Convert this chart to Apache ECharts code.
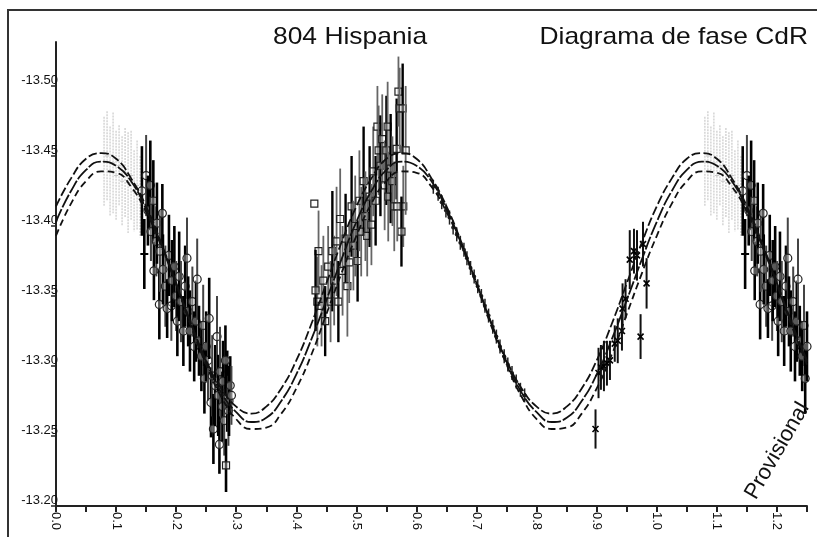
<!DOCTYPE html>
<html><head><meta charset="utf-8">
<script src="https://cdn.jsdelivr.net/npm/echarts@6/dist/echarts.min.js"></script>
<style>html,body{margin:0;padding:0;background:#fff}#c{width:817px;height:537px}</style>
</head><body><div id="c"></div>
<script>
const titleLeft = '804 Hispania';
const titleRight = 'Diagrama de fase CdR';
const stampText = 'Provisional';

const xTickValues = [0,0.05,0.1,0.15,0.2,0.25,0.3,0.35,0.4,0.45,0.5,0.55,0.6,0.65,0.7,0.75,0.8,0.85,0.9,0.95,1.0,1.05,1.1,1.15,1.2,1.25];
const xLabelValues = [0,0.1,0.2,0.3,0.4,0.5,0.6,0.7,0.8,0.9,1.0,1.1,1.2];
const yLabelValues = [-13.50,-13.45,-13.40,-13.35,-13.30,-13.25,-13.20];

// fitted curves (phase grid + three curves)
const curvePhase = [0,0.025,0.05,0.075,0.1,0.125,0.15,0.175,0.2,0.225,0.25,0.275,0.3,0.325,0.35,0.375,0.4,0.425,0.45,0.475,0.5,0.525,0.55,0.575,0.6,0.625,0.65,0.675,0.7,0.725,0.75,0.775,0.8,0.825,0.85,0.875,0.9,0.925,0.95,0.975,1.0,1.025,1.05,1.075,1.1,1.125,1.15,1.175,1.2,1.225,1.25];
const curveUpper = [-13.414,-13.434,-13.448,-13.452,-13.448,-13.434,-13.414,-13.388,-13.359,-13.330,-13.304,-13.284,-13.271,-13.266,-13.271,-13.284,-13.304,-13.330,-13.359,-13.388,
 -13.414,-13.434,-13.448,-13.452,-13.448,-13.434,-13.414,-13.388,-13.359,-13.330,-13.304,-13.284,-13.271,-13.266,-13.271,-13.284,-13.304,-13.330,-13.359,-13.388,
 -13.414,-13.434,-13.448,-13.452,-13.448,-13.434,-13.414,-13.388,-13.359,-13.330,-13.304];
const curveMid = [-13.403,-13.425,-13.440,-13.446,-13.443,-13.432,-13.412,-13.387,-13.359,-13.330,-13.303,-13.281,-13.267,-13.260,-13.263,-13.275,-13.294,-13.319,-13.347,-13.376,
 -13.403,-13.425,-13.440,-13.446,-13.443,-13.432,-13.412,-13.387,-13.359,-13.330,-13.303,-13.281,-13.267,-13.260,-13.263,-13.275,-13.294,-13.319,-13.347,-13.376,
 -13.403,-13.425,-13.440,-13.446,-13.443,-13.432,-13.412,-13.387,-13.359,-13.330,-13.303];
const curveLower = [-13.393,-13.416,-13.432,-13.439,-13.438,-13.428,-13.410,-13.386,-13.358,-13.328,-13.301,-13.278,-13.262,-13.255,-13.256,-13.266,-13.284,-13.308,-13.337,-13.366,
 -13.393,-13.416,-13.432,-13.439,-13.438,-13.428,-13.410,-13.386,-13.358,-13.328,-13.301,-13.278,-13.262,-13.255,-13.256,-13.266,-13.284,-13.308,-13.337,-13.366,
 -13.393,-13.416,-13.432,-13.439,-13.438,-13.428,-13.410,-13.386,-13.358,-13.328,-13.301];

// light grey session
const grayPhase = [0.080,0.085,0.090,0.095,0.100,0.105,0.110,0.115,0.120,0.125,0.130,0.135,0.140];
const grayMag = [-13.446,-13.450,-13.439,-13.445,-13.436,-13.443,-13.432,-13.438,-13.431,-13.436,-13.425,-13.429,-13.421];
const grayErr = [0.032,0.032,0.032,0.036,0.032,0.029,0.032,0.032,0.036,0.032,0.029,0.032,0.029];

// descending branch (circles)
const descPhase = [0.143,0.147,0.150,0.153,0.157,0.158,0.162,0.163,0.167,0.168,0.172,0.173,0.177,0.178,0.182,0.185,0.188,0.192,0.193,0.197,0.200,0.202,0.205,0.208,0.212,0.215,0.218,0.220,0.223,0.227,0.230,0.233,0.235,0.238,0.242,0.245,0.247,0.250,0.253,0.255,0.258,0.260,0.262,0.265,0.268,0.270,0.272,0.273,0.277,0.278,0.280,0.283,0.285,0.287,0.288,0.290,0.292,0.282];
const descMag = [-13.425,-13.380,-13.436,-13.411,-13.429,-13.396,-13.418,-13.368,-13.389,-13.402,-13.344,-13.382,-13.409,-13.369,-13.357,-13.341,-13.379,-13.343,-13.361,-13.371,-13.350,-13.332,-13.364,-13.346,-13.325,-13.357,-13.377,-13.339,-13.325,-13.346,-13.314,-13.332,-13.362,-13.318,-13.307,-13.329,-13.291,-13.314,-13.304,-13.334,-13.274,-13.293,-13.255,-13.286,-13.321,-13.279,-13.244,-13.296,-13.271,-13.289,-13.261,-13.229,-13.282,-13.268,-13.275,-13.286,-13.279,-13.304];
const descErr = [0.032,0.025,0.029,0.025,0.032,0.021,0.029,0.021,0.025,0.029,0.025,0.029,0.021,0.025,0.029,0.021,0.029,0.025,0.029,0.029,0.025,0.025,0.032,0.029,0.025,0.029,0.029,0.025,0.029,0.025,0.025,0.029,0.029,0.025,0.025,0.029,0.025,0.025,0.029,0.029,0.025,0.029,0.025,0.029,0.029,0.029,0.021,0.032,0.025,0.029,0.025,0.019,0.029,0.025,0.025,0.021,0.021,0.025];
const descSymbolExceptions = {1:'+', 6:'s', 51:'s'};

// ascending branch (squares)
const ascPhase = [0.430,0.435,0.437,0.432,0.442,0.445,0.448,0.453,0.457,0.460,0.463,0.467,0.470,0.473,0.477,0.482,0.485,0.488,0.492,0.495,0.498,0.502,0.505,0.508,0.512,0.515,0.518,0.522,0.525,0.528,0.532,0.535,0.537,0.540,0.543,0.547,0.550,0.552,0.553,0.557,0.560,0.563,0.567,0.570,0.572,0.577,0.578,0.582,0.575,0.568];
const ascMag = [-13.416,-13.346,-13.382,-13.354,-13.343,-13.361,-13.332,-13.371,-13.346,-13.382,-13.361,-13.389,-13.346,-13.405,-13.368,-13.391,-13.357,-13.374,-13.414,-13.386,-13.400,-13.375,-13.418,-13.396,-13.432,-13.407,-13.393,-13.421,-13.401,-13.439,-13.418,-13.471,-13.454,-13.443,-13.462,-13.429,-13.454,-13.471,-13.421,-13.441,-13.432,-13.414,-13.455,-13.496,-13.484,-13.484,-13.414,-13.454,-13.396,-13.414];
const ascErr = [0,0.032,0.029,0.029,0.029,0.032,0.025,0.029,0.029,0.043,0.032,0.039,0.029,0.036,0.032,0.032,0.036,0.029,0.036,0.032,0.036,0.029,0.036,0.032,0.039,0.032,0.029,0.036,0.029,0.032,0.032,0.029,0.032,0.036,0.032,0.032,0.039,0.032,0.032,0.039,0.032,0.032,0.036,0.025,0.029,0.032,0.029,0.046,0.025,0.025];

// late session (x marks)
const crossPhase = [0.898,0.903,0.907,0.912,0.917,0.922,0.930,0.935,0.942,0.943,0.948,0.955,0.962,0.967,0.973,0.977,0.983];
const crossMag = [-13.255,-13.295,-13.299,-13.300,-13.302,-13.304,-13.316,-13.318,-13.325,-13.341,-13.348,-13.376,-13.382,-13.379,-13.321,-13.387,-13.359];
const crossErr = [0.014,0.018,0.016,0.018,0.016,0.014,0.013,0.016,0.014,0.018,0.014,0.021,0.016,0.018,0.016,0.016,0.018];

// dense small points on the descending slope
const densePhase = [0.628,0.636,0.642,0.649,0.655,0.661,0.667,0.673,0.679,0.684,0.690,0.696,0.702,0.708,0.714,0.720,0.727,0.733,0.739,0.746,0.752,0.759,0.766,0.773,0.780];
const denseMag = [-13.428,-13.423,-13.417,-13.411,-13.406,-13.399,-13.394,-13.388,-13.383,-13.377,-13.370,-13.364,-13.357,-13.350,-13.343,-13.336,-13.328,-13.321,-13.314,-13.307,-13.301,-13.295,-13.289,-13.283,-13.279];
const denseErr = [0.005,0.005,0.005,0.005,0.005,0.005,0.005,0.005,0.005,0.005,0.005,0.005,0.005,0.005,0.005,0.005,0.005,0.005,0.005,0.005,0.005,0.005,0.005,0.005,0.005];

const X_MAX = 1.25;
function build(ph, mg, er, repeat) {
  const out = [];
  ph.forEach((p, i) => {
    out.push([p, mg[i], er[i], i]);
    if (repeat && p + 1 <= X_MAX + 0.003) out.push([p + 1, mg[i], er[i], i]);
  });
  return out;
}

function makeRender(kind) {
  return function (params, api) {
    const p = api.value(0), v = api.value(1), e = api.value(2), idx = api.value(3);
    const c = api.coord([p, v]);
    const ch = [];
    let stroke = '#000', lw = 2, mk = 'o';
    if (kind === 'gray') { stroke = '#d4d4d4'; lw = 1.5; mk = '.'; }
    else if (kind === 'desc') { stroke = (idx % 3 === 2) ? '#444' : '#000'; lw = (idx % 3 === 2) ? 2 : 2.6; mk = descSymbolExceptions[idx] || 'o'; }
    else if (kind === 'asc') { stroke = (idx % 3 === 0) ? '#000' : '#666'; lw = (idx % 3 === 0) ? 2.4 : 1.8; mk = 's'; }
    else if (kind === 'cross') { stroke = '#111'; lw = 2; mk = 'x'; }
    else if (kind === 'dense') { stroke = '#222'; lw = 1.5; mk = 'd'; }
    if (e > 0) {
      const t = api.coord([p, v - e]), b = api.coord([p, v + e]);
      ch.push({ type: 'line', shape: { x1: t[0], y1: t[1], x2: b[0], y2: b[1] },
        style: { stroke: stroke, lineWidth: lw, lineDash: kind === 'gray' ? [2, 1] : null } });
    }
    const ms = '#222';
    if (mk === 'o') ch.push({ type: 'circle', shape: { cx: c[0], cy: c[1], r: 4 }, style: { stroke: ms, lineWidth: 1.2, fill: 'rgba(255,255,255,0.35)' } });
    else if (mk === 's') ch.push({ type: 'rect', shape: { x: c[0] - 3.5, y: c[1] - 3.5, width: 7, height: 7 }, style: { stroke: ms, lineWidth: 1.2, fill: 'rgba(255,255,255,0.35)' } });
    else if (mk === 'x') {
      ch.push({ type: 'line', shape: { x1: c[0] - 3, y1: c[1] - 3, x2: c[0] + 3, y2: c[1] + 3 }, style: { stroke: '#000', lineWidth: 1.6 } });
      ch.push({ type: 'line', shape: { x1: c[0] - 3, y1: c[1] + 3, x2: c[0] + 3, y2: c[1] - 3 }, style: { stroke: '#000', lineWidth: 1.6 } });
    } else if (mk === '+') {
      ch.push({ type: 'line', shape: { x1: c[0] - 4, y1: c[1], x2: c[0] + 4, y2: c[1] }, style: { stroke: '#000', lineWidth: 2 } });
    } else if (mk === '.') {
      ch.push({ type: 'line', shape: { x1: c[0] - 2, y1: c[1], x2: c[0] + 2, y2: c[1] }, style: { stroke: '#c4c4c4', lineWidth: 1 } });
    } else if (mk === 'd') {
      ch.push({ type: 'circle', shape: { cx: c[0], cy: c[1], r: 2 }, style: { fill: '#222' } });
    }
    return { type: 'group', children: ch };
  };
}

function errSeries(kind, data) {
  return { type: 'custom', renderItem: makeRender(kind), data: data, encode: { x: 0, y: 1 }, z: 2, silent: true, animation: false };
}
function curveSeries(vals, dash, width) {
  return { type: 'line', data: curvePhase.map((p, i) => [p, vals[i]]), showSymbol: false, smooth: true, z: 5,
    lineStyle: { color: '#111', width: width, type: dash }, animation: false, silent: true };
}

const chart = echarts.init(document.getElementById('c'), null, { renderer: 'canvas' });
const FONT = '"Liberation Sans", Arial, sans-serif';
chart.setOption({
  backgroundColor: '#fff',
  animation: false,
  grid: { left: 56, right: 10, top: 42, bottom: 31 },
  xAxis: {
    type: 'value', min: 0, max: X_MAX,
    axisLine: { show: true, onZero: false, lineStyle: { color: '#222', width: 2 } },
    axisTick: { show: true, length: 6, customValues: xTickValues, lineStyle: { color: '#222', width: 2 } },
    axisLabel: { customValues: xLabelValues, rotate: -90, margin: 6, color: '#111', fontSize: 13, fontFamily: FONT,
      formatter: v => v.toFixed(1) },
    splitLine: { show: false }
  },
  yAxis: {
    type: 'value', inverse: true, min: -13.5314, max: -13.20,
    axisLine: { show: true, onZero: false, lineStyle: { color: '#222', width: 2 } },
    axisTick: { show: true, length: 5, customValues: yLabelValues, lineStyle: { color: '#222', width: 1.5 } },
    axisLabel: { customValues: yLabelValues, margin: -2, color: '#111', fontSize: 13, fontFamily: FONT,
      verticalAlign: 'bottom', lineHeight: 11, formatter: v => v.toFixed(2) },
    splitLine: { show: false }
  },
  series: [
    errSeries('gray', build(grayPhase, grayMag, grayErr, true)),
    errSeries('desc', build(descPhase, descMag, descErr, true)),
    errSeries('asc', build(ascPhase, ascMag, ascErr, false)),
    errSeries('cross', build(crossPhase, crossMag, crossErr, false)),
    errSeries('dense', build(densePhase, denseMag, denseErr, false)),
    curveSeries(curveUpper, [9, 3], 1.8),
    curveSeries(curveMid, [14, 2], 1.8),
    curveSeries(curveLower, [7, 4], 1.8)
  ],
  graphic: [
    { type: 'rect', z: 100, silent: true, shape: { x: 8, y: 10, width: 900, height: 700 }, style: { fill: 'none', stroke: '#333', lineWidth: 2 } },
    { type: 'text', z: 100, x: 273, y: 37, scaleX: 1.1, style: { text: titleLeft, font: '24px ' + FONT, fill: '#111', textAlign: 'left', textVerticalAlign: 'middle' } },
    { type: 'text', z: 100, x: 808, y: 37, scaleX: 1.1, style: { text: titleRight, font: '24px ' + FONT, fill: '#111', textAlign: 'right', textVerticalAlign: 'middle' } },
    { type: 'text', z: 100, x: 760, y: 503, rotation: 60 * Math.PI / 180, style: { text: stampText, font: '22px ' + FONT, fill: '#111', textAlign: 'left', textVerticalAlign: 'bottom' } }
  ]
});
</script></body></html>
